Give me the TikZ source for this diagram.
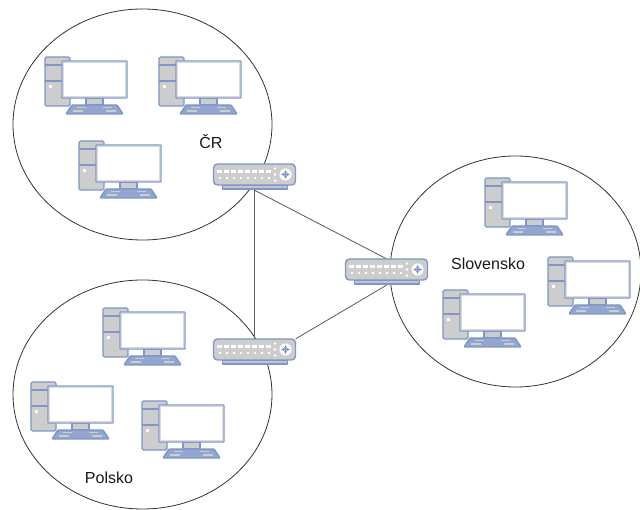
\documentclass[tikz,border=0pt]{standalone}
\usepackage{fontspec}
\setmainfont{Liberation Sans}
\definecolor{edgeblue}{HTML}{7F96C6}
\definecolor{bodygrey}{HTML}{CDCDCD}
\definecolor{lineg}{HTML}{5A5A5A}
\tikzset{
  x=1pt,y=-1pt,
  region/.style={draw=black!80,line width=0.8pt,fill=white},
  link/.style={draw=lineg,line width=0.8pt},
  lbl/.style={font=\fontsize{16}{18}\selectfont,text=black!90,inner sep=0pt},
  icon/.style={draw=edgeblue,line width=1.4pt,fill=bodygrey,line join=round},
  swnode/.style={inner sep=0pt,minimum width=82,minimum height=26},
  pics/computer/.style={code={
    \draw[icon,rounded corners=1.5] (0,0) rectangle (25,49);
    \draw[edgeblue,line width=1.3pt] (0,8) -- (17,8) (0,24) -- (17,24);
    \fill[white] (4,28) rectangle ++(2.6,2.6);
    \draw[icon] (41,41) rectangle (58,48);
    \draw[icon,fill=edgeblue!85,rounded corners=0.8] (27,48) -- (72,48) -- (78,57) -- (21,57) -- cycle;
    \draw[bodygrey,line width=1.5pt] (32,50.5) -- (41,50.5) (58,50.5) -- (67,50.5)
      (28,54.2) -- (38,54.2) (61,54.2) -- (71,54.2);
    \draw[icon,fill=white,rounded corners=0.5] (17,4) rectangle (82,41);
    \draw[black!14,line width=1pt] (18.8,5.8) rectangle (80.2,39.2);
  }},
  pics/netswitch/.style={code={
    \draw[icon,fill=bodygrey!85!edgeblue] (9,21) rectangle (74,25);
    \draw[icon,rounded corners=4] (0,0) rectangle (82,21);
    \foreach \i in {0,...,7} {
      \fill[white] (3.5+7*\i,6) rectangle ++(5,2.6);
      \fill[white] (5+7*\i,13) rectangle ++(2.5,2.5);
    }
    \foreach \j in {4.5,10.5,16.5} \fill[white] (61.5,\j) circle (1.4);
    \fill[white] (72,10.5) circle (6);
    \draw[edgeblue,line width=0.7pt,<->,>=stealth] (72,6) -- (72,15);
    \draw[edgeblue,line width=0.7pt,<->,>=stealth] (67.5,10.5) -- (76.5,10.5);
  }}
}
\begin{document}
\begin{tikzpicture}
\useasboundingbox (0,0) rectangle (640,510);
\fill[white] (0,0) rectangle (640,510);
\draw[region] (142.5,124.5) ellipse [x radius=129.5,y radius=115.5];
\draw[region] (142.5,394.5) ellipse [x radius=129.5,y radius=114.5];
\draw[region] (515.5,271.5) ellipse [x radius=125.5,y radius=115.5];

\node[swnode] (swa) at (254.5,177) {};
\node[swnode] (swb) at (254.5,352) {};
\node[swnode] (swc) at (386.5,272) {};
\draw[link] (swa.south) -- (swb.north);
\draw[link] (swa.south) -- (swc.north);
\draw[link] (swc.south) -- (swb.north east);
\pic at (213.5,164) {netswitch};
\pic at (213.5,339) {netswitch};
\pic at (345.5,259) {netswitch};

\foreach \p in {(45,57),(159,57),(79,141),(103,308),(31,382),(142,401),(485,178),(548,257),(443,290)}
  \pic at \p {computer};

\node[lbl] (cr) at (211,142) {ČR};
\node[lbl] (sk) at (488,264) {Slovensko};
\node[lbl] (pl) at (109,478) {Polsko};
\end{tikzpicture}
\end{document}
